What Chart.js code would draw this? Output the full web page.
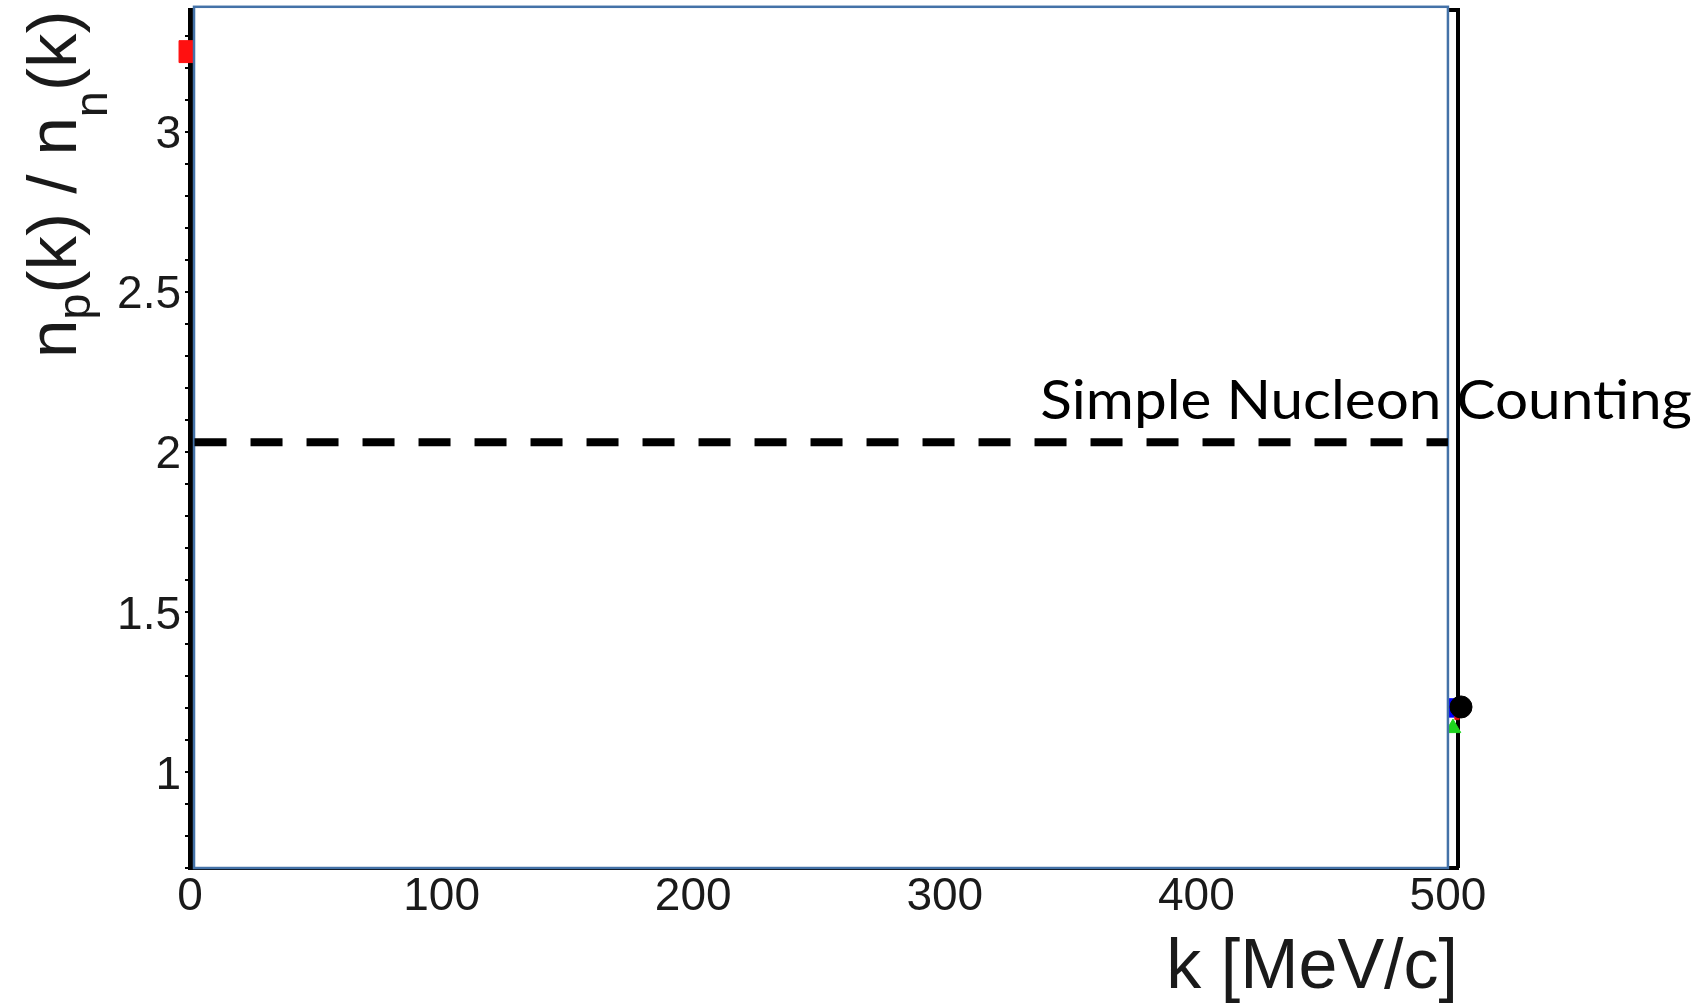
<!DOCTYPE html>
<html>
<head>
<meta charset="utf-8">
<script src="https://cdn.jsdelivr.net/npm/chart.js@4.4.1/dist/chart.umd.min.js"></script>
<style>
html,body{margin:0;padding:0;background:#fff;}
#wrap{width:1700px;height:1004px;position:relative;}
canvas{display:block;}
</style>
</head>
<body>
<div id="wrap"><canvas id="c" width="1700" height="1004"></canvas></div>
<script>
// ---- data ----
const xTickValues = [0, 100, 200, 300, 400, 500];
const yTickValues = [0.7, 0.8, 0.9, 1.0, 1.1, 1.2, 1.3, 1.4, 1.5, 1.6, 1.7, 1.8, 1.9, 2.0,
                     2.1, 2.2, 2.3, 2.4, 2.5, 2.6, 2.7, 2.8, 2.9, 3.0, 3.1, 3.2, 3.3];
const yTickLabels = ['1', '1.5', '2', '2.5', '3'];
const redSquares = [{x: 0, y: 3.25}];
const blueSquares = [{x: 501.6, y: 1.20}];
const blackCircles = [{x: 505.2, y: 1.203}];
const greenTriangles = [{x: 502, y: 1.137}];
const redMarks = [{x: 503.6, y: 1.17}];
const nucleonCountingLevel = [{x: 1.8, y: 2.03}, {x: 500, y: 2.03}];
const levelLabel = 'Simple Nucleon Counting';
const levelLabelAnchor = {kStart: 338, kEnd: 597, r: 2.102};
const coverBox = {kMin: 1.6, kMax: 500, rMin: 0.70, rMax: 3.39};
const xTitle = 'k [MeV/c]';
const yTitleParts = [{t: 'n'}, {t: 'p', sub: 14}, {t: '(k) / n'}, {t: 'n', sub: 31}, {t: '(k)'}];

const TICK_FONT = {family: '"Liberation Sans", Arial, sans-serif', size: 46};
const TEXT_COLOR = '#1a1a1a';

const overlayPlugin = {
  id: 'overlay',
  beforeDatasetsDraw(chart) {
    const {ctx, chartArea: a} = chart;
    ctx.save();
    ctx.strokeStyle = '#000';
    ctx.lineWidth = 4;
    ctx.beginPath();
    ctx.moveTo(a.left, a.top);
    ctx.lineTo(a.right, a.top);
    ctx.lineTo(a.right, a.bottom);
    ctx.stroke();
    ctx.restore();
  },
  beforeDatasetDraw(chart, args) {
    const ds = chart.data.datasets[args.index];
    if (ds.id !== 'level') return;
    const {ctx} = chart;
    const xs = chart.scales.x, ys = chart.scales.y;
    const x1 = xs.getPixelForValue(coverBox.kMin), x2 = xs.getPixelForValue(coverBox.kMax);
    const y1 = ys.getPixelForValue(coverBox.rMax), y2 = ys.getPixelForValue(coverBox.rMin);
    ctx.save();
    ctx.fillStyle = '#ffffff';
    ctx.fillRect(x1, y1, x2 - x1, y2 - y1);
    ctx.strokeStyle = '#4472a8';
    ctx.lineWidth = 2.5;
    ctx.strokeRect(x1, y1, x2 - x1, y2 - y1);
    ctx.restore();
  },
  afterDraw(chart) {
    const {ctx, chartArea: a} = chart;
    const xs = chart.scales.x, ys = chart.scales.y;
    // level label
    ctx.save();
    ctx.fillStyle = '#000';
    ctx.font = '54px Lato, "Open Sans", sans-serif';
    ctx.textAlign = 'left';
    ctx.textBaseline = 'alphabetic';
    const lx1 = xs.getPixelForValue(levelLabelAnchor.kStart);
    const lx2 = xs.getPixelForValue(levelLabelAnchor.kEnd);
    const sx = (lx2 - lx1) / ctx.measureText(levelLabel).width;
    ctx.translate(lx1, ys.getPixelForValue(levelLabelAnchor.r));
    ctx.scale(sx, 1);
    ctx.fillText(levelLabel, 0, 0);
    ctx.restore();
    // y title with subscripts
    ctx.save();
    ctx.translate(a.left - 114, a.top + 348);
    ctx.rotate(-Math.PI / 2);
    ctx.fillStyle = TEXT_COLOR;
    ctx.textBaseline = 'alphabetic';
    let pos = 0;
    for (const part of yTitleParts) {
      ctx.font = (part.sub ? '47px' : '69px') + ' "Liberation Sans", Arial, sans-serif';
      ctx.fillText(part.t, pos, part.sub || 0);
      pos += ctx.measureText(part.t).width;
    }
    ctx.restore();
  }
};

new Chart(document.getElementById('c'), {
  type: 'scatter',
  data: {
    datasets: [
      {id: 'level', data: nucleonCountingLevel, showLine: true, borderColor: '#000', borderWidth: 8,
       borderDash: [32, 24], pointRadius: 0, order: 0, clip: false},
      {data: blackCircles, pointStyle: 'circle', pointRadius: 11, backgroundColor: '#000', borderColor: '#000', order: 1, clip: false},
      {data: redMarks, pointStyle: 'rect', pointRadius: 3, backgroundColor: '#e01010', borderColor: '#e01010', order: 2, clip: false},
      {data: blueSquares, pointStyle: 'rect', pointRadius: 13, backgroundColor: '#0000ff', borderColor: '#0000ff', order: 3, clip: false},
      {data: greenTriangles, pointStyle: 'triangle', pointRadius: 9, backgroundColor: '#1ed51e', borderColor: '#1ed51e', order: 4, clip: false},
      {data: redSquares, pointStyle: 'rect', pointRadius: 15.5, backgroundColor: '#ff1010', borderColor: '#ff1010', order: 5, clip: false}
    ]
  },
  options: {
    responsive: false,
    animation: false,
    devicePixelRatio: 1,
    layout: {autoPadding: false, padding: {top: 10, right: 242, left: 0, bottom: 0}},
    plugins: {legend: {display: false}, tooltip: {enabled: false}},
    scales: {
      x: {
        type: 'linear', min: 0, max: 504,
        afterBuildTicks: s => { s.ticks = xTickValues.map(v => ({value: v})); },
        afterFit: s => { s.height = 136; s.paddingLeft = 0; s.paddingRight = 0; },
        grid: {display: false, drawTicks: false},
        border: {display: true, color: '#000', width: 4},
        ticks: {font: TICK_FONT, color: TEXT_COLOR, padding: 2, autoSkip: false, maxRotation: 0},
        title: {display: true, text: xTitle, align: 'end', color: TEXT_COLOR,
                font: {family: '"Liberation Sans", Arial, sans-serif', size: 70, lineHeight: 0.85},
                padding: {top: 0, bottom: 6}}
      },
      y: {
        type: 'linear', min: 0.7, max: 3.38,
        afterBuildTicks: s => { s.ticks = yTickValues.map(v => ({value: v})); },
        afterFit: s => { s.width = 190; s.paddingTop = 0; s.paddingBottom = 0; },
        grid: {display: true, drawOnChartArea: false, drawTicks: true, tickLength: 5, color: '#000', lineWidth: 2},
        border: {display: true, color: '#000', width: 5},
        ticks: {
          font: TICK_FONT, color: TEXT_COLOR, padding: 4, autoSkip: false, labelOffset: 4,
          callback: v => { const s = String(+(+v).toFixed(1)); return yTickLabels.includes(s) ? s : ''; }
        }
      }
    }
  },
  plugins: [overlayPlugin]
});
</script>
</body>
</html>
